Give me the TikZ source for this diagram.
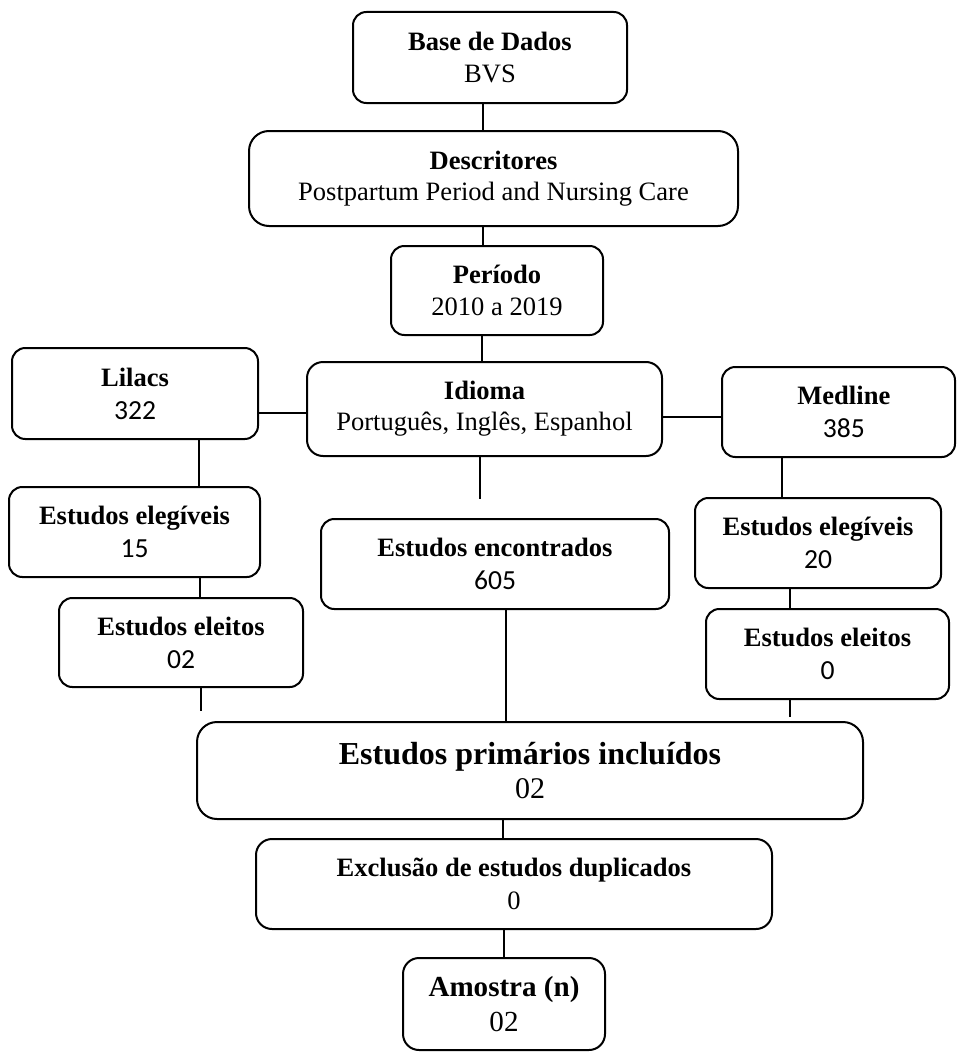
\documentclass[tikz,border=0pt]{standalone}
\usepackage{fontspec}
\setmainfont{Liberation Serif}
\newfontfamily\calib{Carlito}
\newcommand{\fsn}{\fontsize{19.9pt}{23.4pt}\selectfont}
\begin{document}
\begin{tikzpicture}[x=0.75pt,y=-0.75pt,
  box/.style={draw=black, line width=1.5pt, rounded corners=10pt, align=center, inner sep=0pt, font=\fsn},
  sz/.style 2 args={minimum width=#1*0.75pt, minimum height=#2*0.75pt},
  conn/.style={draw=black, line width=1pt}]
\useasboundingbox[fill=white] (0,0) rectangle (957,1056);
% boxes
\node[box, sz={274}{91}] (base) at (490,57.5) {\textbf{Base de Dados}\\BVS};
\node[box, sz={489}{95}, rounded corners=15pt] (desc) at (493.5,178.5) {\textbf{Descritores}\\Postpartum Period and Nursing Care};
\node[box, sz={212}{89}] (per) at (497,290.5) {\textbf{Período}\\2010 a 2019};
\node[box, sz={355}{94}, rounded corners=12pt] (idi) at (484.5,409) {\textbf{Idioma}\\Português, Inglês, Espanhol};
\node[box, sz={246}{91}] (lil) at (135,393.5) {\textbf{Lilacs}\\[1.5pt]{\calib\fontsize{20.7pt}{24pt}\selectfont 322}};
\node[box, sz={233}{90}] (med) at (838.5,412) {\hspace*{8pt}\textbf{Medline}\\[1.5pt]\hspace*{8pt}{\calib\fontsize{20.7pt}{24pt}\selectfont 385}};
\node[box, sz={251}{90}] (elegl) at (134.5,532) {\textbf{Estudos elegíveis}\\[1.5pt]{\calib\fontsize{20.7pt}{24pt}\selectfont 15}};
\node[box, sz={244}{89}] (eleil) at (181,642.5) {\textbf{Estudos eleitos}\\[1.5pt]{\calib\fontsize{20.7pt}{24pt}\selectfont 02}};
\node[box, sz={348}{90}] (enc) at (495,564) {\textbf{Estudos encontrados}\\[1.5pt]{\calib\fontsize{20.7pt}{24pt}\selectfont 605}};
\node[box, sz={246}{90}] (elegr) at (818,543) {\textbf{Estudos elegíveis}\\[1.5pt]{\calib\fontsize{20.7pt}{24pt}\selectfont 20}};
\node[box, sz={243}{90}] (eleir) at (827.5,654) {\textbf{Estudos eleitos}\\[1.5pt]{\calib\fontsize{20.7pt}{24pt}\selectfont 0}};
\node[box, sz={666}{97}, rounded corners=15pt] (main) at (530,770.5) {{\fontsize{24pt}{28pt}\selectfont\textbf{Estudos primários incluídos}}\\[2pt]{\fontsize{22.5pt}{26pt}\selectfont 02}};
\node[box, sz={516}{90}, rounded corners=12pt] (excl) at (514,884) {\textbf{Exclusão de estudos duplicados}\\[1pt]0};
\node[box, sz={202}{92}, rounded corners=12pt, font=\fontsize{21.8pt}{26pt}\selectfont] (amo) at (504,1004) {\textbf{Amostra (n)}\\02};
% helper coordinates
\coordinate (x1) at (483,0);
\coordinate (x2) at (482,0);
\coordinate (x3) at (480,0);
\coordinate (x4) at (199,0);
\coordinate (x5) at (200,0);
\coordinate (x6) at (201,0);
\coordinate (x7) at (782,0);
\coordinate (x8) at (790,0);
\coordinate (x9) at (506,0);
\coordinate (x10) at (503,0);
\coordinate (x11) at (504,0);
\coordinate (y1) at (0,413);
\coordinate (y2) at (0,417);
\coordinate (fi) at (480,499);
\coordinate (fl) at (201,711);
\coordinate (fr) at (790,717);
% connectors
\draw[conn] (base.south -| x1) -- (desc.north -| x1);
\draw[conn] (desc.south -| x1) -- (per.north -| x1);
\draw[conn] (per.south -| x2) -- (idi.north -| x2);
\draw[conn] (lil.east |- y1) -- (idi.west |- y1);
\draw[conn] (idi.east |- y2) -- (med.west |- y2);
\draw[conn] (idi.south -| x3) -- (fi);
\draw[conn] (lil.south -| x4) -- (elegl.north -| x4);
\draw[conn] (elegl.south -| x5) -- (eleil.north -| x5);
\draw[conn] (eleil.south -| x6) -- (fl);
\draw[conn] (med.south -| x7) -- (elegr.north -| x7);
\draw[conn] (elegr.south -| x8) -- (eleir.north -| x8);
\draw[conn] (eleir.south -| x8) -- (fr);
\draw[conn] (enc.south -| x9) -- (main.north -| x9);
\draw[conn] (main.south -| x10) -- (excl.north -| x10);
\draw[conn] (excl.south -| x11) -- (amo.north -| x11);
\end{tikzpicture}
\end{document}
